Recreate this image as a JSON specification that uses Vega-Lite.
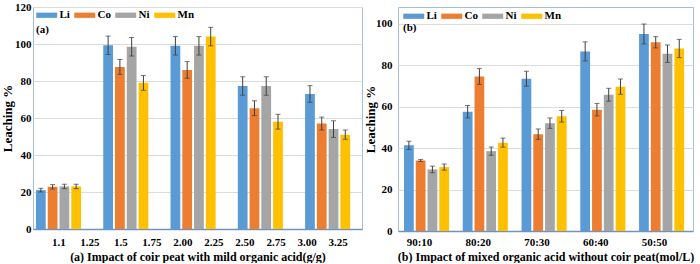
{
  "$schema": "https://vega.github.io/schema/vega-lite/v6.json",
  "padding": {"left": 0, "top": 0, "right": 2, "bottom": 0},
  "background": "white",
  "spacing": 0,
  "config": {
    "font": "Liberation Serif",
    "view": {"stroke": "#a7bdd4", "strokeWidth": 1},
    "axis": {
      "labelFont": "Liberation Serif", "labelFontWeight": "bold", "labelColor": "#000000", "labelFontSize": 11,
      "titleFont": "Liberation Serif", "titleFontWeight": "bold", "titleColor": "#000000"
    },
    "legend": {
      "orient": "none", "direction": "horizontal", "padding": 0,
      "symbolType": "M-1,-0.5H3V0.5H-1Z", "symbolSize": 110, "symbolStrokeWidth": 0, "symbolOpacity": 1,
      "labelFont": "Liberation Serif", "labelFontWeight": "bold", "labelFontSize": 11, "labelColor": "#000000",
      "labelOffset": 12.5, "columnPadding": 4,
      "titleFont": "Liberation Serif", "titleFontWeight": "bold", "titleFontSize": 11, "titleColor": "#000000",
      "titleOrient": "bottom", "titleAnchor": "start", "titlePadding": 3
    }
  },
  "datasets": {
    "coir": [
      {"group": "1.1", "metal": "Li", "value": 21.0, "err": 1.0},
      {"group": "1.1", "metal": "Co", "value": 22.8, "err": 1.2},
      {"group": "1.1", "metal": "Ni", "value": 23.0, "err": 1.2},
      {"group": "1.1", "metal": "Mn", "value": 23.0, "err": 1.2},
      {"group": "1.5", "metal": "Li", "value": 99.3, "err": 5.0},
      {"group": "1.5", "metal": "Co", "value": 87.6, "err": 4.0},
      {"group": "1.5", "metal": "Ni", "value": 98.5, "err": 5.0},
      {"group": "1.5", "metal": "Mn", "value": 79.0, "err": 4.0},
      {"group": "2.00", "metal": "Li", "value": 99.0, "err": 5.0},
      {"group": "2.00", "metal": "Co", "value": 86.0, "err": 4.5},
      {"group": "2.00", "metal": "Ni", "value": 99.0, "err": 5.0},
      {"group": "2.00", "metal": "Mn", "value": 104.0, "err": 5.0},
      {"group": "2.50", "metal": "Li", "value": 77.3, "err": 5.0},
      {"group": "2.50", "metal": "Co", "value": 65.3, "err": 4.0},
      {"group": "2.50", "metal": "Ni", "value": 77.3, "err": 5.0},
      {"group": "2.50", "metal": "Mn", "value": 58.0, "err": 4.0},
      {"group": "3.00", "metal": "Li", "value": 73.0, "err": 4.5},
      {"group": "3.00", "metal": "Co", "value": 57.0, "err": 3.5},
      {"group": "3.00", "metal": "Ni", "value": 54.0, "err": 4.5},
      {"group": "3.00", "metal": "Mn", "value": 51.0, "err": 2.5}
    ],
    "coirTicks": [
      {"ratio": "1.1"}, {"ratio": "1.25"}, {"ratio": "1.5"}, {"ratio": "1.75"}, {"ratio": "2.00"},
      {"ratio": "2.25"}, {"ratio": "2.50"}, {"ratio": "2.75"}, {"ratio": "3.00"}, {"ratio": "3.25"}
    ],
    "mixed": [
      {"acid": "90:10", "metal": "Li", "value": 41.3, "err": 2.0},
      {"acid": "90:10", "metal": "Co", "value": 34.0, "err": 0.5},
      {"acid": "90:10", "metal": "Ni", "value": 29.7, "err": 1.6},
      {"acid": "90:10", "metal": "Mn", "value": 30.8, "err": 1.5},
      {"acid": "80:20", "metal": "Li", "value": 57.5, "err": 3.0},
      {"acid": "80:20", "metal": "Co", "value": 74.5, "err": 3.8},
      {"acid": "80:20", "metal": "Ni", "value": 38.5, "err": 2.0},
      {"acid": "80:20", "metal": "Mn", "value": 42.6, "err": 2.2},
      {"acid": "70:30", "metal": "Li", "value": 73.4, "err": 3.6},
      {"acid": "70:30", "metal": "Co", "value": 46.7, "err": 2.5},
      {"acid": "70:30", "metal": "Ni", "value": 52.0, "err": 2.5},
      {"acid": "70:30", "metal": "Mn", "value": 55.3, "err": 2.8},
      {"acid": "60:40", "metal": "Li", "value": 86.6, "err": 4.6},
      {"acid": "60:40", "metal": "Co", "value": 58.5, "err": 3.0},
      {"acid": "60:40", "metal": "Ni", "value": 65.7, "err": 3.1},
      {"acid": "60:40", "metal": "Mn", "value": 69.6, "err": 3.7},
      {"acid": "50:50", "metal": "Li", "value": 95.0, "err": 4.8},
      {"acid": "50:50", "metal": "Co", "value": 91.0, "err": 2.7},
      {"acid": "50:50", "metal": "Ni", "value": 85.5, "err": 4.2},
      {"acid": "50:50", "metal": "Mn", "value": 88.0, "err": 4.4}
    ]
  },
  "resolve": {"legend": {"color": "independent"}},
  "hconcat": [
    {
      "width": 329,
      "height": 222,
      "resolve": {"scale": {"x": "independent"}},
      "layer": [
        {
          "data": {"name": "coir"},
          "encoding": {
            "x": {"field": "group", "type": "nominal", "sort": null, "axis": null,
                  "scale": {"paddingInner": 0.33, "paddingOuter": 0.11, "align": 0.2}},
            "xOffset": {"field": "metal", "type": "nominal", "sort": ["Li", "Co", "Ni", "Mn"],
                        "scale": {"paddingInner": 0.17, "paddingOuter": 0}},
            "y": {"field": "value", "type": "quantitative",
                  "scale": {"domain": [0, 120], "nice": false},
                  "axis": {"values": [0, 20, 40, 60, 80, 100, 120], "domain": false, "ticks": false,
                           "gridColor": "#dcdcdc", "labelPadding": 2, "title": "Leaching %",
                           "titleFontSize": 13, "titlePadding": 1, "minExtent": 18, "maxExtent": 18}}
          },
          "layer": [
            {
              "mark": {"type": "bar"},
              "encoding": {
                "color": {"field": "metal", "type": "nominal", "sort": ["Li", "Co", "Ni", "Mn"],
                          "scale": {"domain": ["Li", "Co", "Ni", "Mn"], "range": ["#5b9bd5", "#ed7d31", "#a5a5a5", "#ffc000"]},
                          "legend": {"title": "(a)", "legendX": 3, "legendY": 2.5}}
              }
            },
            {
              "mark": {"type": "errorbar", "ticks": {"size": 5, "color": "#3f3f3f"}, "color": "#3f3f3f", "thickness": 1},
              "encoding": {"yError": {"field": "err"}}
            }
          ]
        },
        {
          "data": {"name": "coirTicks"},
          "mark": {"type": "point", "opacity": 0},
          "encoding": {
            "x": {"field": "ratio", "type": "ordinal", "sort": null,
                  "scale": {"type": "band", "paddingInner": 0, "paddingOuter": 0.3, "align": 0.55},
                  "axis": {"orient": "bottom", "labelAngle": 0, "ticks": false, "domainColor": "#6f93c0",
                           "domainWidth": 1.5, "labelPadding": 7, "title": "(a) Impact of coir peat with mild organic acid(g/g)",
                           "titleFontSize": 12, "titlePadding": 4}}
          }
        }
      ]
    },
    {
      "width": 295,
      "height": 224,
      "data": {"name": "mixed"},
      "encoding": {
        "x": {"field": "acid", "type": "nominal", "sort": null,
              "scale": {"paddingInner": 0.32, "paddingOuter": 0.17, "align": 0.3},
              "axis": {"labelAngle": 0, "ticks": false, "domainColor": "#6f93c0", "domainWidth": 1.5,
                       "labelPadding": 5, "labelOffset": -4.5,
                       "title": "(b) Impact of mixed organic acid without coir peat(mol/L)",
                       "titleFontSize": 12, "titlePadding": 4}},
        "xOffset": {"field": "metal", "type": "nominal", "sort": ["Li", "Co", "Ni", "Mn"],
                    "scale": {"paddingInner": 0.22, "paddingOuter": 0}},
        "y": {"field": "value", "type": "quantitative",
              "scale": {"domain": [0, 108], "nice": false},
              "axis": {"values": [0, 20, 40, 60, 80, 100], "domain": false, "ticks": false,
                       "gridColor": "#dcdcdc", "labelPadding": 6, "title": "Leaching %",
                       "titleFontSize": 13, "titlePadding": 0, "minExtent": 21, "maxExtent": 21}}
      },
      "layer": [
        {
          "mark": {"type": "bar"},
          "encoding": {
            "color": {"field": "metal", "type": "nominal", "sort": ["Li", "Co", "Ni", "Mn"],
                      "scale": {"domain": ["Li", "Co", "Ni", "Mn"], "range": ["#5b9bd5", "#ed7d31", "#a5a5a5", "#ffc000"]},
                      "legend": {"title": "(b)", "legendX": 5, "legendY": 3.5, "titlePadding": 0}}
          }
        },
        {
          "mark": {"type": "errorbar", "ticks": {"size": 5, "color": "#3f3f3f"}, "color": "#3f3f3f", "thickness": 1},
          "encoding": {"yError": {"field": "err"}}
        }
      ]
    }
  ]
}
